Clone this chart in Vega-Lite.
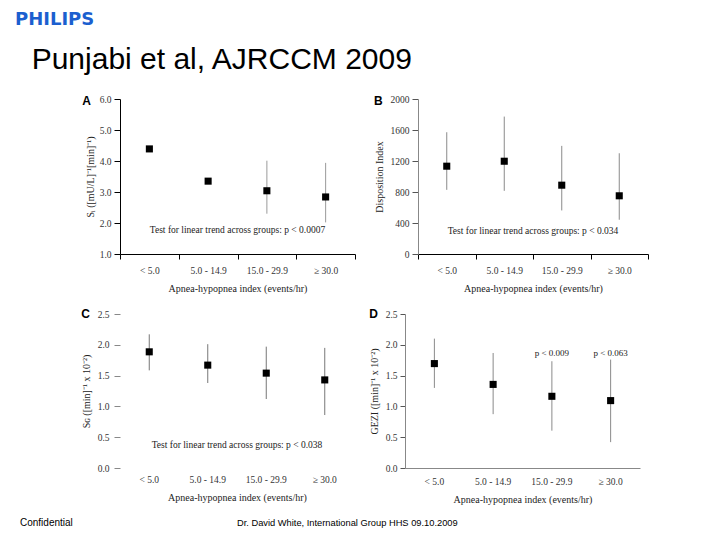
{
  "$schema": "https://vega.github.io/schema/vega-lite/v6.json",
  "background": "white",
  "padding": {"left": 15, "top": 11, "right": 10, "bottom": 5},
  "config": {
    "view": {"stroke": null},
    "axis": {"labelFont": "Liberation Serif", "titleFont": "Liberation Serif", "labelFontSize": 9.5, "titleFontSize": 10, "titleFontWeight": "normal", "labelColor": "#333", "titleColor": "#222", "grid": false, "domainColor": "#222", "tickColor": "#222", "labelOverlap": false, "labelFlush": false},
    "text": {"font": "Liberation Serif"}
  },
  "datasets": {
    "A": [
      {"ahi": "< 5.0", "value": 4.39, "lo": null, "hi": null},
      {"ahi": "5.0 - 14.9", "value": 3.35, "lo": null, "hi": null},
      {"ahi": "15.0 - 29.9", "value": 3.04, "lo": 2.3, "hi": 4.01},
      {"ahi": "≥ 30.0", "value": 2.84, "lo": 2.02, "hi": 3.94}
    ],
    "A_note": [{"note": "Test for linear trend across groups: p < 0.0007", "y": 1.78}],
    "B": [
      {"ahi": "< 5.0", "value": 1133, "lo": 828, "hi": 1571},
      {"ahi": "5.0 - 14.9", "value": 1197, "lo": 815, "hi": 1773},
      {"ahi": "15.0 - 29.9", "value": 888, "lo": 562, "hi": 1395},
      {"ahi": "≥ 30.0", "value": 751, "lo": 442, "hi": 1300}
    ],
    "B_note": [{"note": "Test for linear trend across groups: p < 0.034", "y": 300}],
    "C": [
      {"ahi": "< 5.0", "value": 1.886, "lo": 1.585, "hi": 2.17},
      {"ahi": "5.0 - 14.9", "value": 1.67, "lo": 1.38, "hi": 2.01},
      {"ahi": "15.0 - 29.9", "value": 1.54, "lo": 1.12, "hi": 1.97},
      {"ahi": "≥ 30.0", "value": 1.43, "lo": 0.86, "hi": 1.95}
    ],
    "C_note": [{"note": "Test for linear trend across groups: p < 0.038", "y": 0.38}],
    "D": [
      {"ahi": "< 5.0", "value": 1.695, "lo": 1.3, "hi": 2.1},
      {"ahi": "5.0 - 14.9", "value": 1.357, "lo": 0.874, "hi": 1.867},
      {"ahi": "15.0 - 29.9", "value": 1.164, "lo": 0.606, "hi": 1.733},
      {"ahi": "≥ 30.0", "value": 1.094, "lo": 0.42, "hi": 1.76}
    ],
    "D_note": [
      {"ahi": "15.0 - 29.9", "note": "p < 0.009", "y": 1.867},
      {"ahi": "≥ 30.0", "note": "p < 0.063", "y": 1.867}
    ]
  },
  "title": {"text": "Confidential", "orient": "bottom", "anchor": "start", "frame": "group", "font": "Liberation Sans", "fontSize": 10, "fontWeight": "normal", "color": "#000", "offset": -10, "dx": -100},
  "vconcat": [
    {
      "title": {"text": "Dr. David White, International Group HHS 09.10.2009", "orient": "bottom", "anchor": "start", "frame": "group", "font": "Liberation Sans", "fontSize": 9.3, "fontWeight": "normal", "color": "#000", "offset": 14, "dx": 117},
      "vconcat": [
        {
          "title": {"text": "PHILIPS", "subtitle": "\u200b\u00a0\u00a0Punjabi et al, AJRCCM 2009", "orient": "top", "anchor": "start", "frame": "group", "dx": -105, "font": "DejaVu Sans", "fontSize": 18, "fontWeight": "bold", "color": "#1b5fcf", "subtitleFont": "Liberation Sans", "subtitleFontSize": 30, "subtitleColor": "#000", "subtitlePadding": 16, "offset": 19},
          "spacing": 14,
          "vconcat": [
            {
              "spacing": 18,
              "hconcat": [
                {
                  "width": 235, "height": 155,
                  "title": {"text": "A", "orient": "top", "anchor": "start", "frame": "bounds", "font": "Liberation Sans", "fontSize": 12, "fontWeight": "bold", "color": "#000", "baseline": "top", "offset": -14, "dx": -3},
                  "data": {"name": "A"},
                  "layer": [
                    {
                      "mark": {"type": "rule", "color": "#9a9a9a", "strokeWidth": 1},
                      "encoding": {
                        "x": {"field": "ahi", "type": "nominal", "sort": ["< 5.0", "5.0 - 14.9", "15.0 - 29.9", "≥ 30.0"], "scale": {"type": "band", "paddingInner": 0, "paddingOuter": 0}, "axis": {"title": "Apnea-hypopnea index (events/hr)", "labelAngle": 0, "tickBand": "extent", "tickSize": 5, "labelPadding": 6, "titlePadding": 9, "domainColor": "#000", "tickColor": "#000"}},
                        "y": {"field": "lo", "type": "quantitative", "title": "Sᵢ ([mU/L]⁻¹[min]⁻¹)", "scale": {"domain": [1, 6], "nice": false, "zero": false}, "axis": {"values": [1, 2, 3, 4, 5, 6], "format": ".1f", "labelOverlap": false, "tickSize": 6, "labelPadding": 3, "titlePadding": 4, "domainColor": "#000", "tickColor": "#000"}},
                        "y2": {"field": "hi"}
                      }
                    },
                    {
                      "mark": {"type": "square", "size": 50, "color": "#000", "opacity": 1},
                      "encoding": {
                        "x": {"field": "ahi", "type": "nominal", "sort": ["< 5.0", "5.0 - 14.9", "15.0 - 29.9", "≥ 30.0"]},
                        "y": {"field": "value", "type": "quantitative", "title": "Sᵢ ([mU/L]⁻¹[min]⁻¹)", "axis": {"values": [1, 2, 3, 4, 5, 6], "format": ".1f", "labelOverlap": false}}
                      }
                    },
                    {
                      "data": {"name": "A_note"},
                      "mark": {"type": "text", "fontSize": 9.5, "font": "Liberation Serif", "color": "#222"},
                      "encoding": {
                        "y": {"field": "y", "type": "quantitative", "title": "Sᵢ ([mU/L]⁻¹[min]⁻¹)", "axis": {"values": [1, 2, 3, 4, 5, 6], "format": ".1f", "labelOverlap": false}},
                        "text": {"field": "note"}
                      }
                    }
                  ]
                },
                {
                  "width": 230, "height": 155,
                  "title": {"text": "B", "orient": "top", "anchor": "start", "frame": "bounds", "font": "Liberation Sans", "fontSize": 12, "fontWeight": "bold", "color": "#000", "baseline": "top", "offset": -14},
                  "data": {"name": "B"},
                  "layer": [
                    {
                      "mark": {"type": "rule", "color": "#8a8a8a", "strokeWidth": 1},
                      "encoding": {
                        "x": {"field": "ahi", "type": "nominal", "sort": ["< 5.0", "5.0 - 14.9", "15.0 - 29.9", "≥ 30.0"], "scale": {"type": "band", "paddingInner": 0, "paddingOuter": 0}, "axis": {"title": "Apnea-hypopnea index (events/hr)", "labelAngle": 0, "tickBand": "extent", "tickSize": 5, "labelPadding": 6, "titlePadding": 9, "domainColor": "#000", "tickColor": "#000"}},
                        "y": {"field": "lo", "type": "quantitative", "title": "Disposition Index", "scale": {"domain": [0, 2000], "nice": false}, "axis": {"values": [0, 400, 800, 1200, 1600, 2000], "format": "d", "labelOverlap": false, "tickSize": 6, "labelPadding": 3, "titlePadding": 6, "domainColor": "#888", "tickColor": "#555"}},
                        "y2": {"field": "hi"}
                      }
                    },
                    {
                      "mark": {"type": "square", "size": 50, "color": "#000", "opacity": 1},
                      "encoding": {
                        "x": {"field": "ahi", "type": "nominal", "sort": ["< 5.0", "5.0 - 14.9", "15.0 - 29.9", "≥ 30.0"]},
                        "y": {"field": "value", "type": "quantitative", "title": "Disposition Index", "axis": {"values": [0, 400, 800, 1200, 1600, 2000], "format": "d", "labelOverlap": false}}
                      }
                    },
                    {
                      "data": {"name": "B_note"},
                      "mark": {"type": "text", "fontSize": 9.5, "font": "Liberation Serif", "color": "#222"},
                      "encoding": {
                        "y": {"field": "y", "type": "quantitative", "title": "Disposition Index", "axis": {"values": [0, 400, 800, 1200, 1600, 2000], "format": "d", "labelOverlap": false}},
                        "text": {"field": "note"}
                      }
                    }
                  ]
                }
              ]
            },
            {
              "spacing": 15,
              "hconcat": [
                {
                  "width": 234, "height": 154,
                  "title": {"text": "C", "orient": "top", "anchor": "start", "frame": "bounds", "font": "Liberation Sans", "fontSize": 12, "fontWeight": "bold", "color": "#000", "baseline": "top", "offset": -12},
                  "data": {"name": "C"},
                  "layer": [
                    {
                      "mark": {"type": "rule", "color": "#777", "strokeWidth": 1},
                      "encoding": {
                        "x": {"field": "ahi", "type": "nominal", "sort": ["< 5.0", "5.0 - 14.9", "15.0 - 29.9", "≥ 30.0"], "scale": {"type": "band", "paddingInner": 0, "paddingOuter": 0}, "axis": {"title": "Apnea-hypopnea index (events/hr)", "labelAngle": 0, "domain": false, "ticks": false, "labelPadding": 6, "titlePadding": 9}},
                        "y": {"field": "lo", "type": "quantitative", "title": "S\u0262 ([min]⁻¹ x 10⁻²)", "scale": {"domain": [0, 2.5], "nice": false}, "axis": {"values": [0, 0.5, 1, 1.5, 2, 2.5], "format": ".1f", "labelOverlap": false, "domain": false, "tickSize": 6, "labelPadding": 5, "titlePadding": 6, "tickColor": "#888"}},
                        "y2": {"field": "hi"}
                      }
                    },
                    {
                      "mark": {"type": "square", "size": 50, "color": "#000", "opacity": 1},
                      "encoding": {
                        "x": {"field": "ahi", "type": "nominal", "sort": ["< 5.0", "5.0 - 14.9", "15.0 - 29.9", "≥ 30.0"]},
                        "y": {"field": "value", "type": "quantitative", "title": "S\u0262 ([min]⁻¹ x 10⁻²)", "axis": {"values": [0, 0.5, 1, 1.5, 2, 2.5], "format": ".1f", "labelOverlap": false}}
                      }
                    },
                    {
                      "data": {"name": "C_note"},
                      "mark": {"type": "text", "fontSize": 9.5, "font": "Liberation Serif", "color": "#222"},
                      "encoding": {
                        "y": {"field": "y", "type": "quantitative", "title": "S\u0262 ([min]⁻¹ x 10⁻²)", "axis": {"values": [0, 0.5, 1, 1.5, 2, 2.5], "format": ".1f", "labelOverlap": false}},
                        "text": {"field": "note"}
                      }
                    }
                  ]
                },
                {
                  "width": 235, "height": 154,
                  "title": {"text": "D", "orient": "top", "anchor": "start", "frame": "bounds", "font": "Liberation Sans", "fontSize": 12, "fontWeight": "bold", "color": "#000", "baseline": "top", "offset": -12},
                  "data": {"name": "D"},
                  "layer": [
                    {
                      "mark": {"type": "rule", "color": "#8a8a8a", "strokeWidth": 1},
                      "encoding": {
                        "x": {"field": "ahi", "type": "nominal", "sort": ["< 5.0", "5.0 - 14.9", "15.0 - 29.9", "≥ 30.0"], "scale": {"type": "band", "paddingInner": 0, "paddingOuter": 0}, "axis": {"title": "Apnea-hypopnea index (events/hr)", "labelAngle": 0, "ticks": false, "labelPadding": 8, "titlePadding": 9, "domainColor": "#888"}},
                        "y": {"field": "lo", "type": "quantitative", "title": "GEZI ([min]⁻¹ x 10⁻²)", "scale": {"domain": [0, 2.5], "nice": false}, "axis": {"values": [0, 0.5, 1, 1.5, 2, 2.5], "format": ".1f", "labelOverlap": false, "tickSize": 5, "labelPadding": 3, "titlePadding": 6, "domainColor": "#888", "tickColor": "#555"}},
                        "y2": {"field": "hi"}
                      }
                    },
                    {
                      "mark": {"type": "square", "size": 50, "color": "#000", "opacity": 1},
                      "encoding": {
                        "x": {"field": "ahi", "type": "nominal", "sort": ["< 5.0", "5.0 - 14.9", "15.0 - 29.9", "≥ 30.0"]},
                        "y": {"field": "value", "type": "quantitative", "title": "GEZI ([min]⁻¹ x 10⁻²)", "axis": {"values": [0, 0.5, 1, 1.5, 2, 2.5], "format": ".1f", "labelOverlap": false}}
                      }
                    },
                    {
                      "data": {"name": "D_note"},
                      "mark": {"type": "text", "fontSize": 9, "font": "Liberation Serif", "color": "#222"},
                      "encoding": {
                        "x": {"field": "ahi", "type": "nominal", "sort": ["< 5.0", "5.0 - 14.9", "15.0 - 29.9", "≥ 30.0"]},
                        "y": {"field": "y", "type": "quantitative", "title": "GEZI ([min]⁻¹ x 10⁻²)", "axis": {"values": [0, 0.5, 1, 1.5, 2, 2.5], "format": ".1f", "labelOverlap": false}},
                        "text": {"field": "note"}
                      }
                    }
                  ]
                }
              ]
            }
          ]
        }
      ]
    }
  ]
}
